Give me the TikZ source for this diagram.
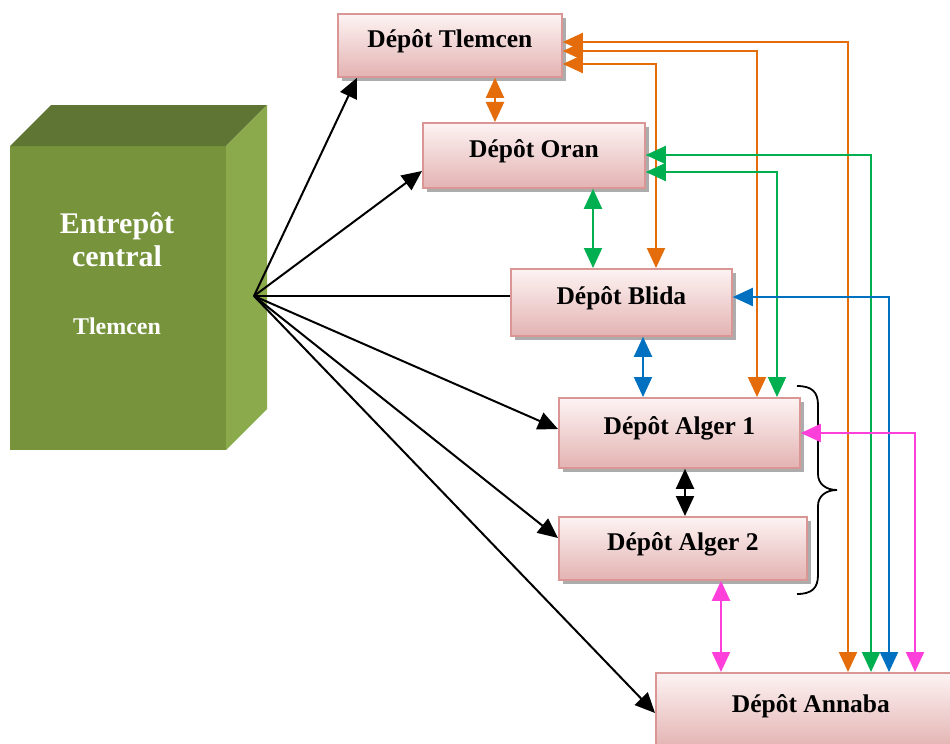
\documentclass[tikz,border=0pt]{standalone}
\usepackage{fontspec}
\setmainfont{Liberation Serif}
\usetikzlibrary{arrows.meta,shadows}

\definecolor{boxtop}{HTML}{FDF3F3}
\definecolor{boxbot}{HTML}{E3B3B2}
\definecolor{boxrim}{HTML}{D99694}
\definecolor{cubefront}{HTML}{77933C}
\definecolor{cubetop}{HTML}{5F7534}
\definecolor{cubeside}{HTML}{8BAA4B}
\definecolor{lorange}{HTML}{E46C0A}
\definecolor{lgreen}{HTML}{00B050}
\definecolor{lblue}{HTML}{0070C0}
\definecolor{lpink}{HTML}{FF3FD9}

\tikzset{
  depot/.style={draw=boxrim, line width=1.8bp, top color=boxtop, bottom color=boxbot,
    drop shadow={shadow xshift=4bp, shadow yshift=-4bp, fill=black!50, opacity=.65},
    inner sep=0pt, anchor=north west,
    font=\fontsize{25.5bp}{28bp}\selectfont\bfseries,
    text height=18bp, text depth=14bp},
  cubetext/.style={text=white, anchor=base, inner sep=0pt, font=\bfseries},
  headtip/.tip={Triangle[length=20bp,width=18bp]},
  link/.style={line width=2bp, -headtip},
  both/.style={line width=2bp, headtip-headtip},
}

\begin{document}
\begin{tikzpicture}[x=1bp,y=-1bp]
\clip (0,0) rectangle (950,744);
\fill[white] (0,0) rectangle (950,744);

% central warehouse block
\fill[cubefront] (10,146) rectangle (226,450);
\fill[cubetop] (10,146) -- (51,105) -- (267,105) -- (226,146) -- cycle;
\fill[cubeside] (226,146) -- (267,105) -- (267,409) -- (226,450) -- cycle;
\node[cubetext, font=\fontsize{30bp}{33bp}\selectfont\bfseries] (ent) at (117,233) {Entrepôt};
\node[cubetext, font=\fontsize{30bp}{33bp}\selectfont\bfseries] (cen) at (117,266) {central};
\node[cubetext, font=\fontsize{24bp}{28bp}\selectfont\bfseries] (tlc) at (117,334) {Tlemcen};
\coordinate (hub) at (254,296);

% depots
\node[depot, minimum width=224bp, minimum height=63bp] (tlem) at (337,13) {Dépôt Tlemcen};
\node[depot, minimum width=222bp, minimum height=65bp] (oran) at (422,122) {Dépôt Oran};
\node[depot, minimum width=221bp, minimum height=67bp] (blida) at (510,268) {Dépôt Blida};
\node[depot, minimum width=241bp, minimum height=70bp] (alg1) at (558,397) {Dépôt Alger 1};
\node[depot, minimum width=248bp, minimum height=63bp] (alg2) at (558,516) {Dépôt Alger 2};
\node[depot, minimum width=310bp, minimum height=75bp] (anna) at (655,672) {Dépôt Annaba};

% brace grouping the two Algiers depots
\draw[line width=1.8bp] (797,386) .. controls (812,386) and (818,392) .. (818,405)
  -- (818,474) .. controls (818,484) and (826,490) .. (837,490)
  .. controls (826,490) and (818,496) .. (818,506)
  -- (818,575) .. controls (818,588) and (812,594) .. (797,594);

% deliveries from the central warehouse
\draw[link] (hub) -- (tlem.south west -| 357,0);
\draw[link] (hub) -- (oran.west |- 0,171);
\draw[line width=2bp] (hub) -- (blida.west |- hub);
\draw[link] (hub) -- (alg1.west |- 0,429);
\draw[link] (hub) -- (alg2.west |- 0,538);
\draw[link] (hub) -- (anna.west |- 0,713);

% exchanges with Tlemcen
\draw[both, lorange] (tlem.east |- 0,42) -| (anna.north -| 848,0);
\draw[both, lorange] (tlem.east |- 0,51) -| (alg1.north -| 757,0);
\draw[both, lorange] (tlem.east |- 0,64) -| (blida.north -| 656,0);
\draw[both, lorange] (tlem.south -| 495,0) -- (oran.north -| 495,0);

% exchanges with Oran
\draw[both, lgreen] (oran.east |- 0,155) -| (anna.north -| 871,0);
\draw[both, lgreen] (oran.east |- 0,172) -| (alg1.north -| 777,0);
\draw[both, lgreen] (oran.south -| 593,0) -- (blida.north -| 593,0);

% exchanges with Blida
\draw[both, lblue] (blida.east |- 0,297) -| (anna.north -| 889,0);
\draw[both, lblue] (blida.south -| 643,0) -- (alg1.north -| 643,0);

% exchanges between Algiers and Annaba
\draw[both] (alg1.south -| 685,0) -- (alg2.north -| 685,0);
\draw[both, lpink] (alg1.east |- 0,433) -| (anna.north -| 915,0);
\draw[both, lpink] (alg2.south -| 721,0) -- (anna.north -| 721,0);
\end{tikzpicture}
\end{document}
